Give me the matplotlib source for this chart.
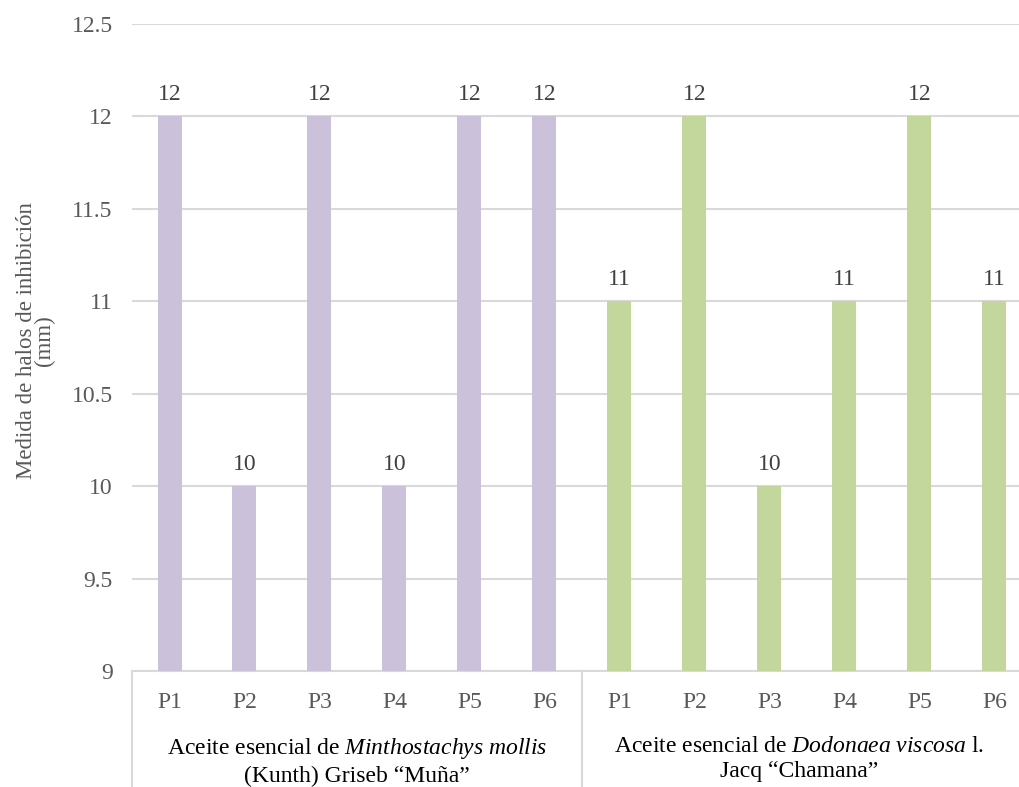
import numpy as np
import matplotlib.pyplot as plt
from matplotlib import transforms

plt.rcParams['font.family'] = ['Liberation Serif', 'DejaVu Serif']
plt.rcParams['mathtext.fontset'] = 'custom'
plt.rcParams['mathtext.rm'] = 'Liberation Serif'
plt.rcParams['mathtext.it'] = 'Liberation Serif:italic'

# datos por grupo de aceite
puntos = ['P1', 'P2', 'P3', 'P4', 'P5', 'P6']
muna = [12, 10, 12, 10, 12, 12]
chamana = [11, 12, 10, 11, 12, 11]
grupos = ['Aceite esencial de $\\mathit{Minthostachys\\ mollis}$\n(Kunth) Griseb \u201cMuña\u201d',
          'Aceite esencial de $\\mathit{Dodonaea\\ viscosa}$ l.\nJacq \u201cChamana\u201d']
col_muna = '#CCC1DA'
col_chamana = '#C3D69B'

valores = muna + chamana
colores = [col_muna] * len(muna) + [col_chamana] * len(chamana)
x = np.arange(len(valores))

fig = plt.figure(figsize=(10.2, 7.87), dpi=100)
ax = fig.add_axes([132 / 1020, 116 / 787, 900 / 1020, 647 / 787])

ax.bar(x, np.array(valores) - 9, bottom=9, width=0.32, color=colores, zorder=3)
for xi, v in zip(x, valores):
    ax.text(xi, v + 0.06, str(v), ha='center', va='bottom', fontsize=17, color='#404040')

ax.set_ylim(9, 12.5)
ax.set_xlim(-0.5, len(valores) - 0.5)
ax.set_yticks(np.arange(9, 12.51, 0.5))
ax.set_yticklabels(['9', '9.5', '10', '10.5', '11', '11.5', '12', '12.5'])
ax.grid(axis='y', color='#D9D9D9', linewidth=1.5, zorder=0)
ax.tick_params(axis='y', length=0, pad=14, labelsize=17, labelcolor='#595959')
ax.set_xticks(x)
ax.set_xticklabels(puntos + puntos)
ax.tick_params(axis='x', length=0, pad=15, labelsize=17, labelcolor='#595959')
for s in ['top', 'right', 'left']:
    ax.spines[s].set_visible(False)
ax.spines['bottom'].set_color('#D9D9D9')
ax.spines['bottom'].set_linewidth(1.5)

# separadores y etiquetas de grupo bajo el eje
trans = transforms.blended_transform_factory(ax.transData, ax.transAxes)
for xs in [-0.5, 5.5, 11.5]:
    ax.plot([xs, xs], [0, -0.3], transform=trans, color='#D9D9D9', lw=1.5, clip_on=False)
for i, g in enumerate(grupos):
    ax.text(2.5 + 6 * i - 0.1 * i, -0.1, g, transform=trans, ha='center', va='top',
            fontsize=17, color='black', linespacing=1.3)

ax.set_ylabel('Medida de halos de inhibición\n(mm)', fontsize=16.5, color='#595959',
              linespacing=0.85)
ax.yaxis.set_label_coords(-0.085, 0.51)

fig.savefig('out.png', dpi=100)
